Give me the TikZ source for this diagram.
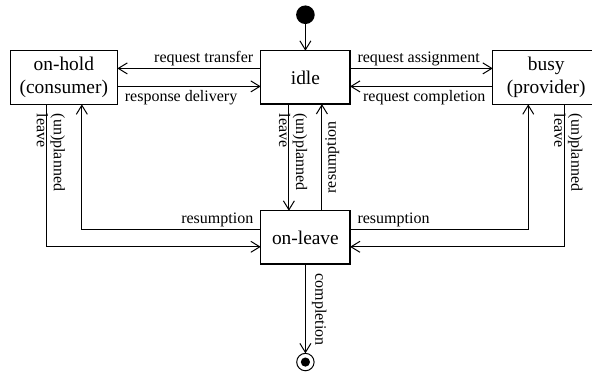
\documentclass[tikz,border=0pt]{standalone}
\usepackage{fontspec}
\setmainfont{Liberation Serif}
\usetikzlibrary{arrows.meta, positioning}

\begin{document}
\begin{tikzpicture}[node distance=2cm]

    % Define style for different elements
    \tikzstyle{state} = [rectangle, minimum width=44.65pt, minimum height=26.65pt, text centered, align=center, draw=black, line width=0.6pt, outer sep=0pt, font=\fontsize{9.7}{11.5}\selectfont]
    \tikzstyle{wide} = [state, minimum width=53.5pt]
    \tikzstyle{startdot} = [circle, fill=black, minimum size=9.3pt, inner sep=0pt, outer sep=0pt]
    \tikzstyle{enddot} = [circle, draw=black, line width=0.5pt, minimum size=8.7pt, inner sep=0pt, outer sep=0pt, path picture={\fill[black] (path picture bounding box.center) circle (2.3pt);}]
    \tikzstyle{arrow} = [line width=0.5pt, ->, >={Straight Barb[length=4.5pt, width=5.5pt]}]
    \tikzstyle{tag} = [font=\fontsize{8}{8.5}\selectfont, inner xsep=3.5pt, inner ysep=0.8pt]
    \tikzstyle{vtag} = [tag, rotate=-90, align=left, anchor=west, inner xsep=4.5pt, yshift=2.1pt]

    % Place nodes
    \useasboundingbox (-152.7pt,38.7pt) rectangle (143.3pt,-146.8pt);
    \node (idle) [state] at (0,0) {idle};
    \node (onhold) [wide, left=71.7pt of idle] {on-hold\\(consumer)};
    \node (busy) [wide, right=71.35pt of idle] {busy\\(provider)};
    \node (onleave) [state, below=53.35pt of idle] {on-leave};
    \node (start) [startdot, above=13.35pt of idle] {};
    \node (stop) [enddot, below=44.65pt of onleave] {};

    % Draw arrows
    \draw [arrow] (start) -- (idle);
    \draw [arrow] ([yshift=4.5pt]idle.west) -- node[tag, pos=0, anchor=south east] {request transfer} ([yshift=4.5pt]onhold.east);
    \draw [arrow] ([yshift=-4.5pt]onhold.east) -- node[tag, pos=0, anchor=north west, inner ysep=1.5pt] {response delivery} ([yshift=-4.5pt]idle.west);
    \draw [arrow] ([yshift=4.5pt]idle.east) -- node[tag, pos=0, anchor=south west] {request assignment} ([yshift=4.5pt]busy.west);
    \draw [arrow] ([yshift=-4.5pt]busy.west) -- node[tag, pos=0, anchor=north east, inner ysep=1.5pt] {request completion} ([yshift=-4.5pt]idle.east);
    \draw [arrow] ([xshift=-8.25pt]idle.south) -- node[vtag, pos=0] {(un)planned\\leave} ([xshift=-8.25pt]onleave.north);
    \draw [arrow] ([xshift=8.25pt]onleave.north) -- node[tag, midway, rotate=90, anchor=north, inner ysep=1.5pt] {resumption} ([xshift=8.25pt]idle.south);
    \draw [arrow] ([xshift=-8.6pt]onhold.south) |- node[vtag, pos=0] {(un)planned\\leave} ([yshift=-4.7pt]onleave.west);
    \draw [arrow] ([yshift=4.2pt]onleave.west) -| node[tag, pos=0, anchor=south east] {resumption} ([xshift=9pt]onhold.south);
    \draw [arrow] ([xshift=9pt]busy.south) |- node[vtag, pos=0] {(un)planned\\leave} ([yshift=-4.7pt]onleave.east);
    \draw [arrow] ([yshift=4.2pt]onleave.east) -| node[tag, pos=0, anchor=south west] {resumption} ([xshift=-9pt]busy.south);
    \draw [arrow] (onleave) -- node[tag, pos=0, rotate=-90, anchor=south west, inner xsep=4.5pt, inner ysep=3pt] {completion} (stop);

\end{tikzpicture}
\end{document}
